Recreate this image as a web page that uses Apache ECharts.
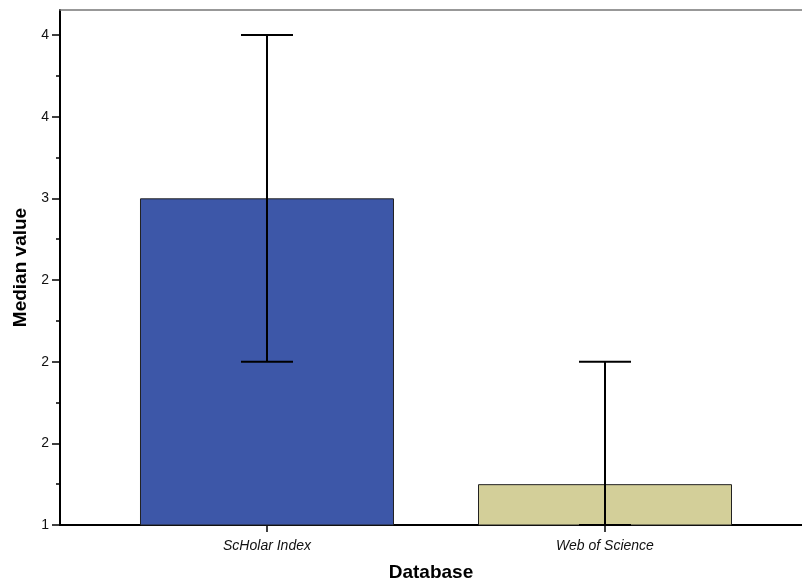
<!DOCTYPE html>
<html>
<head>
<meta charset="utf-8">
<script src="https://cdn.jsdelivr.net/npm/echarts@6/dist/echarts.min.js"></script>
<style>html,body{margin:0;padding:0;background:#fff;overflow:hidden}#c{width:802px;height:582px}</style>
</head>
<body>
<div id="c"></div>
<script>
const categories = ['ScHolar Index', 'Web of Science'];
const medians = [3, 1.25];
const errLow = [2, 1];
const errHigh = [4, 2];
const yTickValues = [1, 1.5, 2, 2.5, 3, 3.5, 4];
const yTickLabels = ['1', '2', '2', '2', '3', '4', '4'];
const yMinorValues = [1.25, 1.75, 2.25, 2.75, 3.25, 3.75];

const barColors = ['#3D57A8', '#D3CF99'];
const FONT = '"Liberation Sans", Arial, sans-serif';

const catPos = categories.map((c, i) => i + 1);

const chart = echarts.init(document.getElementById('c'), null, {renderer: 'canvas'});
chart.setOption({
  animation: false,
  backgroundColor: '#fff',
  grid: {left: 60, right: 0, top: 10, bottom: 57, containLabel: false, outerBoundsMode: 'none'},
  xAxis: [{
    type: 'value',
    min: 0.3876,
    max: 2.5828,
    name: 'Database',
    nameLocation: 'middle',
    nameGap: 38,
    nameTextStyle: {fontFamily: FONT, fontWeight: 'bold', fontSize: 19, color: '#000'},
    axisLine: {show: true, onZero: false, lineStyle: {color: '#000', width: 2}},
    axisTick: {show: true, length: 7, inside: false, customValues: catPos, lineStyle: {color: '#000', width: 1.5}},
    axisLabel: {
      customValues: catPos,
      formatter: v => categories[Math.round(v) - 1] || '',
      fontFamily: FONT, fontStyle: 'italic', fontSize: 14, color: '#111', margin: 14
    },
    splitLine: {show: false}
  }, {
    type: 'value',
    position: 'top',
    min: 0.3876,
    max: 2.5828,
    axisLine: {show: true, onZero: false, lineStyle: {color: '#777', width: 1.5}},
    axisTick: {show: false},
    axisLabel: {show: false},
    splitLine: {show: false}
  }],
  yAxis: [{
    type: 'value',
    min: 1,
    max: 4.153,
    name: 'Median value',
    nameLocation: 'middle',
    nameGap: 27,
    nameRotate: 90,
    nameTextStyle: {fontFamily: FONT, fontWeight: 'bold', fontSize: 19, color: '#000'},
    axisLine: {show: true, onZero: false, lineStyle: {color: '#000', width: 2}},
    axisTick: {show: true, length: 8, customValues: yTickValues, lineStyle: {color: '#000', width: 1.5}},
    axisLabel: {
      customValues: yTickValues,
      formatter: v => {
        const i = yTickValues.findIndex(t => Math.abs(t - v) < 1e-6);
        return i >= 0 ? yTickLabels[i] : '';
      },
      fontFamily: FONT, fontSize: 14, color: '#111', margin: 11
    },
    splitLine: {show: false}
  }, {
    type: 'value',
    min: 1,
    max: 4.153,
    position: 'left',
    axisLine: {show: false, onZero: false},
    axisTick: {show: true, length: 4, customValues: yMinorValues, lineStyle: {color: '#000', width: 1.5}},
    axisLabel: {show: false},
    splitLine: {show: false}
  }],
  series: [{
    type: 'bar',
    xAxisIndex: 0,
    yAxisIndex: 0,
    barWidth: 254,
    data: medians.map((v, i) => ({
      value: [catPos[i], v],
      itemStyle: {color: barColors[i], borderColor: '#222', borderWidth: 1}
    }))
  }, {
    type: 'custom',
    xAxisIndex: 0,
    yAxisIndex: 0,
    z: 5,
    data: categories.map((c, i) => [catPos[i], errLow[i], errHigh[i]]),
    renderItem: function (params, api) {
      const x = api.value(0);
      const lo = api.coord([x, api.value(1)]);
      const hi = api.coord([x, api.value(2)]);
      const hw = 26;
      const style = {stroke: '#000', lineWidth: 2};
      return {
        type: 'group',
        children: [
          {type: 'line', shape: {x1: lo[0], y1: lo[1], x2: hi[0], y2: hi[1]}, style: style},
          {type: 'line', shape: {x1: hi[0] - hw, y1: hi[1], x2: hi[0] + hw, y2: hi[1]}, style: style},
          {type: 'line', shape: {x1: lo[0] - hw, y1: lo[1], x2: lo[0] + hw, y2: lo[1]}, style: style}
        ]
      };
    }
  }]
});
</script>
</body>
</html>
